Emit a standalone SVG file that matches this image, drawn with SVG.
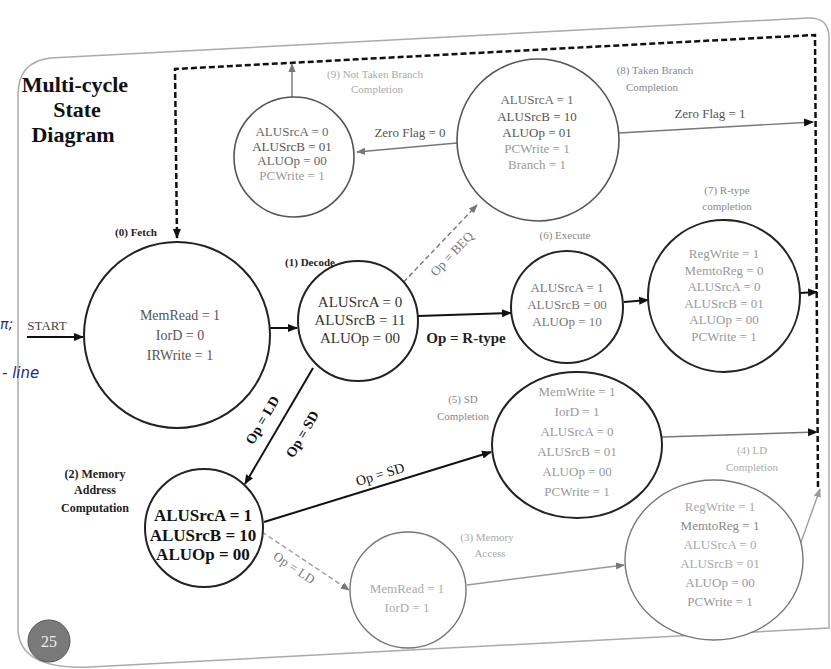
<svg xmlns="http://www.w3.org/2000/svg" width="831" height="669" viewBox="0 0 831 669">
<defs>
<marker id="ab" viewBox="0 0 10 10" refX="9" refY="5" markerWidth="10" markerHeight="10" markerUnits="userSpaceOnUse" orient="auto"><path d="M0,1 L10,5 L0,9 z" fill="#111"/></marker>
<marker id="ag" viewBox="0 0 10 10" refX="9" refY="5" markerWidth="9" markerHeight="9" markerUnits="userSpaceOnUse" orient="auto"><path d="M0,1 L10,5 L0,9 z" fill="#777"/></marker>
<marker id="al" viewBox="0 0 10 10" refX="9" refY="5" markerWidth="9" markerHeight="9" markerUnits="userSpaceOnUse" orient="auto"><path d="M0,1 L10,5 L0,9 z" fill="#999"/></marker>
<style>
text{font-family:"Liberation Serif","Times New Roman",serif;text-anchor:middle}
.st{fill:#fff;stroke:#222;stroke-width:2}
.sg{fill:#fff;stroke:#555;stroke-width:1.6}
.sl{fill:#fff;stroke:#777;stroke-width:1.4}
.t14{font-size:14px;fill:#555}
.t15{font-size:15px;fill:#333}
.tb{font-size:17px;font-weight:bold;fill:#111}
.tg{font-size:13px;fill:#777}
.tl{font-size:13px;fill:#999}
.lab{font-size:11px;font-weight:bold;fill:#222}
.labg{font-size:11px;fill:#888}
.labl{font-size:11px;fill:#aaa}
.cb{stroke:#111;stroke-width:2;fill:none}
.cg{stroke:#777;stroke-width:1.4;fill:none}
.cl{stroke:#999;stroke-width:1.3;fill:none}
.el{font-size:14px;fill:#111}
.elg{font-size:13px;fill:#777}
.hand{font-family:"DejaVu Sans",sans-serif;font-style:italic;fill:#1a2c8c;text-anchor:start}
</style>
</defs>
<rect width="831" height="669" fill="#fff"/>
<path d="M18,95 Q18,62 50,58 L808,18 Q829,17 829,38 L829,628 L90,667 Q20,670 18,630 Z" fill="none" stroke="#aaa" stroke-width="1.5"/>
<g id="title">
<text x="75" y="92" style="font-size:22px;font-weight:bold;fill:#111">Multi-cycle</text>
<text x="77" y="117" style="font-size:22px;font-weight:bold;fill:#111">State</text>
<text x="73" y="142" style="font-size:22px;font-weight:bold;fill:#111">Diagram</text>
</g>
<g id="connectors">
<path d="M818,487 L815,35 L175,69 L177,238" fill="none" stroke="#111" stroke-width="2.5" stroke-dasharray="6,3" marker-end="url(#ab)"/>
<line x1="27" y1="337" x2="83" y2="337" class="cb" marker-end="url(#ab)"/>
<line x1="270" y1="328" x2="297" y2="328" class="cb" marker-end="url(#ab)"/>
<line x1="418" y1="316" x2="511" y2="313" class="cb" marker-end="url(#ab)"/>
<line x1="624" y1="302" x2="648" y2="300" class="cb" marker-end="url(#ab)"/>
<line x1="800" y1="293" x2="817" y2="292" class="cb" marker-end="url(#ab)"/>
<line x1="313" y1="368" x2="245" y2="484" class="cb" marker-end="url(#ab)"/>
<line x1="398" y1="288" x2="477" y2="205" class="cg" stroke-dasharray="5,3" marker-end="url(#ag)"/>
<line x1="457" y1="143" x2="357" y2="152" class="cg" marker-end="url(#ag)"/>
<line x1="292" y1="97" x2="292" y2="64" class="cg" marker-end="url(#ag)"/>
<line x1="619" y1="133" x2="813" y2="122" class="cg" marker-end="url(#ab)"/>
<line x1="264" y1="522" x2="491" y2="452" class="cb" stroke-width="1.6" marker-end="url(#ab)"/>
<line x1="262" y1="532" x2="349" y2="590" class="cl" stroke-dasharray="5,3" marker-end="url(#ag)"/>
<line x1="662" y1="437" x2="817" y2="432" class="cg" marker-end="url(#ab)"/>
<line x1="467" y1="585" x2="624" y2="565" class="cl" marker-end="url(#ag)"/>
<line x1="800" y1="545" x2="820" y2="489" class="cl" marker-end="url(#al)"/>
<text x="47" y="330" style="font-size:13px;fill:#444">START</text>
<text x="466" y="343" style="font-size:15px;font-weight:bold;fill:#222">Op = R-type</text>
<text transform="translate(452,254) rotate(-46.4)" class="elg" y="4">Op = BEQ</text>
<text transform="translate(262,420) rotate(-59.6)" class="el" y="5" style="font-weight:bold">Op = LD</text>
<text transform="translate(302,434) rotate(-59.6)" class="el" y="5" style="font-weight:bold">Op = SD</text>
<text transform="translate(380,474) rotate(-17.1)" class="el" y="5">Op = SD</text>
<text transform="translate(294,568) rotate(33.7)" class="elg" y="4">Op = LD</text>
<text x="410" y="137" style="font-size:13px;fill:#555">Zero Flag = 0</text>
<text x="710" y="118" style="font-size:13px;fill:#555">Zero Flag = 1</text>
</g>
<g id="hand">
<text x="0" y="329" class="hand" style="font-size:14px">π;</text>
<text x="2" y="378" class="hand" style="font-size:15px">- line</text>
</g>
<g id="fetch">
<circle cx="177" cy="335" r="93" class="st"/>
<text x="136" y="236" class="lab">(0) Fetch</text>
<text x="180" y="320" class="t14">MemRead = 1</text>
<text x="180" y="340" class="t14">IorD = 0</text>
<text x="180" y="360" class="t14">IRWrite = 1</text>
</g>
<g id="decode">
<circle cx="358" cy="321" r="60" class="st"/>
<text x="310" y="266" class="lab">(1) Decode</text>
<text x="360" y="307" class="t15">ALUSrcA = 0</text>
<text x="360" y="325" class="t15">ALUSrcB = 11</text>
<text x="360" y="343" class="t15">ALUOp = 00</text>
</g>
<g id="memaddr">
<circle cx="204" cy="528" r="59" class="st"/>
<text x="95" y="478" class="lab" style="font-size:12px">(2) Memory</text>
<text x="95" y="494" class="lab" style="font-size:12px">Address</text>
<text x="95" y="512" class="lab" style="font-size:12px">Computation</text>
<text x="203" y="521" class="tb">ALUSrcA = 1</text>
<text x="203" y="541" class="tb">ALUSrcB = 10</text>
<text x="203" y="560" class="tb">ALUOp = 00</text>
</g>
<g id="nottaken">
<circle cx="294" cy="157" r="60" class="sg"/>
<text x="375" y="78" class="labl">(9) Not Taken Branch</text>
<text x="377" y="93" class="labl">Completion</text>
<text x="292" y="136" class="tg" style="fill:#666">ALUSrcA = 0</text>
<text x="292" y="151" class="tg" style="fill:#555">ALUSrcB = 01</text>
<text x="292" y="165" class="tg" style="fill:#666">ALUOp = 00</text>
<text x="292" y="180" class="tl">PCWrite = 1</text>
</g>
<g id="branch">
<circle cx="538" cy="140" r="81" class="sg"/>
<text x="655" y="74" class="labg">(8) Taken Branch</text>
<text x="652" y="91" class="labg">Completion</text>
<text x="537" y="104" class="tg" style="fill:#666">ALUSrcA = 1</text>
<text x="537" y="121" class="tg" style="fill:#555">ALUSrcB = 10</text>
<text x="537" y="137" class="tg" style="fill:#555">ALUOp = 01</text>
<text x="537" y="153" class="tl">PCWrite = 1</text>
<text x="537" y="169" class="tl">Branch = 1</text>
</g>
<g id="execute">
<circle cx="567" cy="307" r="56" class="st"/>
<text x="565" y="239" class="labg">(6) Execute</text>
<text x="567" y="292" class="tg">ALUSrcA = 1</text>
<text x="567" y="309" class="tg">ALUSrcB = 00</text>
<text x="567" y="326" class="tg">ALUOp = 10</text>
</g>
<g id="rtype">
<circle cx="724" cy="296" r="76" class="st"/>
<text x="727" y="194" class="labg">(7) R-type</text>
<text x="727" y="210" class="labg">completion</text>
<text x="724" y="258" class="tl">RegWrite = 1</text>
<text x="724" y="275" class="tl">MemtoReg = 0</text>
<text x="724" y="291" class="tl">ALUSrcA = 0</text>
<text x="724" y="308" class="tl">ALUSrcB = 01</text>
<text x="724" y="324" class="tl">ALUOp = 00</text>
<text x="724" y="341" class="tl">PCWrite = 1</text>
</g>
<g id="sdcomp">
<ellipse cx="577" cy="445" rx="85" ry="73" class="st"/>
<text x="463" y="403" class="labg">(5) SD</text>
<text x="463" y="420" class="labg">Completion</text>
<text x="577" y="396" class="tl">MemWrite = 1</text>
<text x="577" y="416" class="tl">IorD = 1</text>
<text x="577" y="436" class="tl">ALUSrcA = 0</text>
<text x="577" y="456" class="tl">ALUSrcB = 01</text>
<text x="577" y="476" class="tl">ALUOp = 00</text>
<text x="577" y="496" class="tl">PCWrite = 1</text>
</g>
<g id="memaccess">
<circle cx="408" cy="590" r="58" class="sl"/>
<text x="487" y="541" class="labl">(3) Memory</text>
<text x="490" y="557" class="labl">Access</text>
<text x="407" y="593" class="tl" style="fill:#aaa">MemRead = 1</text>
<text x="407" y="612" class="tl" style="fill:#aaa">IorD = 1</text>
</g>
<g id="ldcomp">
<ellipse cx="714" cy="560" rx="89" ry="80" class="sl"/>
<text x="752" y="454" class="labl">(4) LD</text>
<text x="752" y="471" class="labl">Completion</text>
<text x="720" y="511" class="tl" style="fill:#aaa">RegWrite = 1</text>
<text x="720" y="530" class="tl" style="fill:#888">MemtoReg = 1</text>
<text x="720" y="549" class="tl" style="fill:#aaa">ALUSrcA = 0</text>
<text x="720" y="568" class="tl" style="fill:#aaa">ALUSrcB = 01</text>
<text x="720" y="587" class="tl" style="fill:#999">ALUOp = 00</text>
<text x="720" y="606" class="tl" style="fill:#999">PCWrite = 1</text>
</g>
<g id="page">
<circle cx="49" cy="641" r="21" fill="#7a7a7a" stroke="#555" stroke-width="1"/>
<text x="49" y="647" style="font-size:16px;fill:#eee">25</text>
</g>
</svg>
